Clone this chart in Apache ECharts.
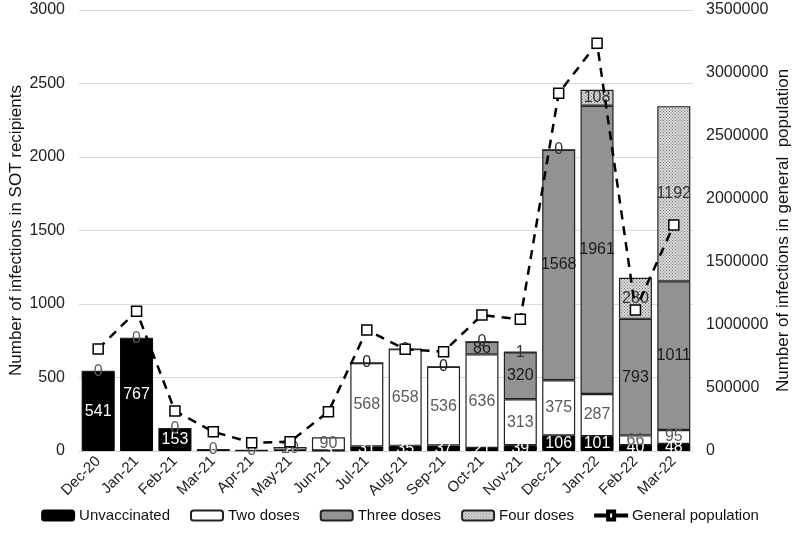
<!DOCTYPE html>
<html>
<head>
<meta charset="utf-8">
<script src="https://cdn.jsdelivr.net/npm/echarts@6/dist/echarts.min.js"></script>
<style>
html,body{margin:0;padding:0;background:#fff;}
#chart{width:800px;height:540px;}
</style>
</head>
<body>
<div id="chart"></div>
<script>
var categories = ['Dec-20','Jan-21','Feb-21','Mar-21','Apr-21','May-21','Jun-21','Jul-21','Aug-21','Sep-21','Oct-21','Nov-21','Dec-21','Jan-22','Feb-22','Mar-22'];
var unvaccinated = [541,767,153,9,5,8,3,31,35,37,21,39,106,101,40,48];
var twoDoses = [0,0,0,0,0,20,90,568,658,536,636,313,375,287,66,95];
var threeDoses = [null,null,null,null,null,null,null,0,0,0,86,320,1568,1961,793,1011];
var fourDoses = [null,null,null,null,null,null,null,null,null,null,0,1,0,108,280,1192];
var generalPopulation = [810000,1110000,317000,153000,66000,74000,312000,960000,807000,788000,1079000,1045000,2839000,3236000,1119000,1794000];
var leftTicks = [0,500,1000,1500,2000,2500,3000];
var rightTicks = [0,500000,1000000,1500000,2000000,2500000,3000000,3500000];

var FONT = 'Liberation Sans';

// dotted pattern for four doses
var pc = document.createElement('canvas');
pc.width = 3; pc.height = 3;
var pctx = pc.getContext('2d');
pctx.fillStyle = '#dadada';
pctx.fillRect(0,0,3,3);
pctx.fillStyle = '#7a7a7a';
pctx.fillRect(0,0,1,1);
pctx.fillRect(1.5,1.5,1,1);

function lbl(color){
  return {
    show: true,
    position: 'inside',
    color: color,
    fontFamily: FONT,
    fontSize: 16,
    formatter: function(p){ return p.value == null ? '' : String(p.value); }
  };
}
function plain(v){ return String(v); }

var chart = echarts.init(document.getElementById('chart'), null, {renderer:'canvas'});
chart.setOption({
  animation: false,
  backgroundColor: '#fff',
  textStyle: {fontFamily: FONT},
  grid: {left: 79, right: 107, top: 10, bottom: 89, containLabel: false, outerBoundsMode: 'none'},
  legend: {
    bottom: 12,
    left: 'center',
    itemWidth: 32,
    itemHeight: 10,
    itemGap: 20,
    textStyle: {fontFamily: FONT, fontSize: 15, color: '#111'},
    data: [
      {name:'Unvaccinated'},
      {name:'Two doses'},
      {name:'Three doses'},
      {name:'Four doses'},
      {name:'General population', icon: 'path://M0,4 L12,4 L12,0 L20,0 L20,4 L32,4 L32,6 L20,6 L20,10 L12,10 L12,6 L0,6 Z M14,2 L14,8 L18,8 L18,2 Z'}
    ]
  },
  xAxis: {
    type: 'category',
    data: categories,
    axisTick: {show: false},
    axisLine: {lineStyle: {color: '#d0d0d0'}},
    axisLabel: {rotate: 45, fontFamily: FONT, fontSize: 15, color: '#222', margin: 8, interval: 0}
  },
  yAxis: [
    {
      type: 'value', min: 0, max: 3000, interval: 500,
      name: 'Number of infections in SOT recipients',
      nameLocation: 'middle', nameGap: 54, nameMoveOverlap: false,
      nameTextStyle: {fontFamily: FONT, fontSize: 17, color: '#111'},
      axisLabel: {fontFamily: FONT, fontSize: 16, color: '#222', margin: 14, formatter: plain},
      splitLine: {lineStyle: {color: '#d9d9d9', width: 1}},
      axisLine: {show: false}, axisTick: {show: false}
    },
    {
      type: 'value', min: 0, max: 3500000, interval: 500000,
      name: 'Number of infections in general  population',
      nameLocation: 'middle', nameGap: 82, nameRotate: 90, nameMoveOverlap: false,
      nameTextStyle: {fontFamily: FONT, fontSize: 17, color: '#111'},
      axisLabel: {fontFamily: FONT, fontSize: 16, color: '#222', margin: 13, formatter: plain},
      splitLine: {show: false},
      axisLine: {show: false}, axisTick: {show: false}
    }
  ],
  series: [
    {
      name: 'Unvaccinated', type: 'bar', stack: 'sot', data: unvaccinated,
      barCategoryGap: '14%',
      itemStyle: {color: '#000', borderColor: '#000', borderWidth: 1},
      label: lbl('#fff')
    },
    {
      name: 'Two doses', type: 'bar', stack: 'sot', data: twoDoses,
      itemStyle: {color: '#fff', borderColor: '#222', borderWidth: 1.2},
      label: lbl('#5a5a5a')
    },
    {
      name: 'Three doses', type: 'bar', stack: 'sot', data: threeDoses,
      itemStyle: {color: '#929292', borderColor: '#222', borderWidth: 1.2},
      label: lbl('#1a1a1a')
    },
    {
      name: 'Four doses', type: 'bar', stack: 'sot', data: fourDoses,
      itemStyle: {color: {image: pc, repeat: 'repeat'}, borderColor: '#222', borderWidth: 1.2},
      label: lbl('#333')
    },
    {
      name: 'General population', type: 'line', yAxisIndex: 1, data: generalPopulation,
      z: 5,
      symbol: 'rect', symbolSize: 10,
      lineStyle: {color: '#000', width: 2.5, type: [9, 7]},
      itemStyle: {color: '#fff', borderColor: '#000', borderWidth: 1.5}
    }
  ]
});
</script>
</body>
</html>
